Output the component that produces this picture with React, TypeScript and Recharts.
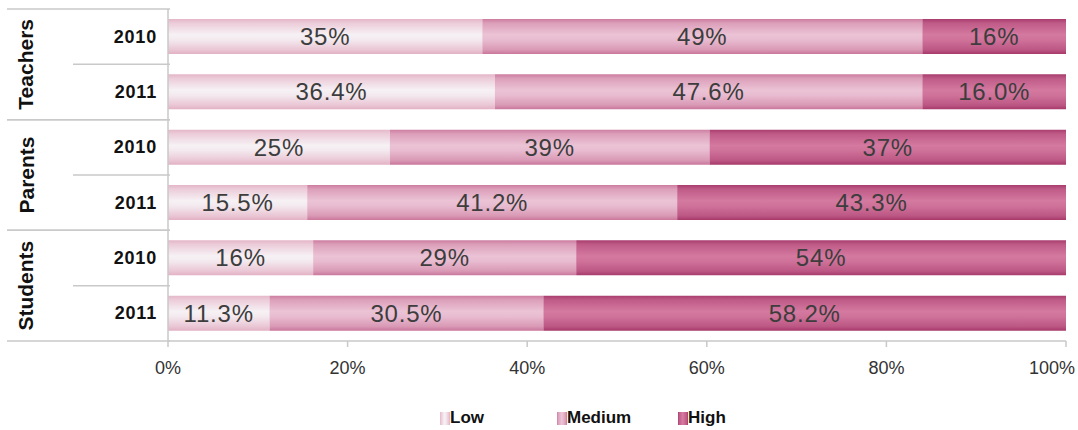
import React from "react";
import { BarChart, Bar, XAxis, YAxis, Legend, LabelList } from "recharts";

const groups = ["Teachers", "Teachers", "Parents", "Parents", "Students", "Students"];
const years = ["2010", "2011", "2010", "2011", "2010", "2011"];
const lowValues = [35, 36.4, 24.7, 15.5, 16, 11.3];
const mediumValues = [49, 47.6, 35.6, 41.2, 29, 30.5];
const highValues = [16, 16.0, 39.7, 43.3, 54, 58.2];
const lowLabels = ["35%", "36.4%", "25%", "15.5%", "16%", "11.3%"];
const mediumLabels = ["49%", "47.6%", "39%", "41.2%", "29%", "30.5%"];
const highLabels = ["16%", "16.0%", "37%", "43.3%", "54%", "58.2%"];
const xTicks = [0, 0.2, 0.4, 0.6, 0.8, 1];
const xTickLabels = ["0%", "20%", "40%", "60%", "80%", "100%"];
const seriesNames = ["Low", "Medium", "High"];

const data = groups.map((g, i) => ({
  key: `${g} ${years[i]}`,
  group: g,
  year: years[i],
  low: lowValues[i],
  medium: mediumValues[i],
  high: highValues[i],
  lowLabel: lowLabels[i],
  mediumLabel: mediumLabels[i],
  highLabel: highLabels[i],
}));

const FONT = '"Liberation Sans", Arial, Helvetica, sans-serif';
const W = 1078;
const H = 430;
const PLOT_TOP = 9;
const PLOT_BOTTOM = 341;
const BAND = (PLOT_BOTTOM - PLOT_TOP) / data.length;
const LINE = "#c9c9c9";

function YTick(props: any) {
  const { x, y, index } = props;
  const row = data[index];
  const half = BAND / 2;
  const axisX = x + 10;
  return (
    <g>
      <text
        x={x - 3}
        y={y}
        textAnchor="end"
        dominantBaseline="central"
        fontFamily={FONT}
        fontWeight="bold"
        fontSize={18}
        letterSpacing={0.8}
        fill="#111"
      >
        {row.year}
      </text>
      {index % 2 === 0 ? (
        <g>
          <line x1={7} x2={axisX} y1={y - half} y2={y - half} stroke={LINE} strokeWidth={1.5} />
          <line x1={73} x2={axisX} y1={y + half} y2={y + half} stroke={LINE} strokeWidth={1.5} />
          <text
            x={26}
            y={y + half}
            transform={`rotate(-90 26 ${y + half})`}
            textAnchor="middle"
            dominantBaseline="central"
            fontFamily={FONT}
            fontWeight="bold"
            fontSize={21}
            fill="#111"
          >
            {row.group}
          </text>
        </g>
      ) : (
        <line x1={7} x2={axisX} y1={y + half} y2={y + half} stroke={LINE} strokeWidth={1.5} />
      )}
    </g>
  );
}

function XTick(props: any) {
  const { x, y, index } = props;
  const last = index === xTicks.length - 1;
  return (
    <text
      x={last ? x + 9 : x}
      y={y}
      dy="0.71em"
      textAnchor={last ? "end" : "middle"}
      fontFamily={FONT}
      fontSize={18}
      fill="#333"
    >
      {xTickLabels[index]}
    </text>
  );
}

const gradIds = ["gLow", "gMed", "gHigh"];
const itemLefts = [440, 557, 678];

function LegendContent() {
  return (
    <div style={{ position: "relative", height: 22, width: W, fontFamily: FONT }}>
      {seriesNames.map((n, i) => (
        <div
          key={n}
          style={{
            position: "absolute",
            left: itemLefts[i],
            top: 0,
            height: 22,
            display: "flex",
            alignItems: "center",
          }}
        >
          <svg width={10} height={13} style={{ display: "block" }}>
            <rect x={0} y={0} width={10} height={13} fill={`url(#${gradIds[i]}L)`} />
          </svg>
          <span style={{ fontWeight: "bold", fontSize: 17, color: "#111", lineHeight: "22px" }}>{n}</span>
        </div>
      ))}
    </div>
  );
}

function Grad({ id, stops, horizontal }: { id: string; stops: string[]; horizontal?: boolean }) {
  const offs = [0, 0.12, 0.45, 0.6, 0.88, 1];
  return (
    <linearGradient id={id} x1="0" y1="0" x2={horizontal ? "1" : "0"} y2={horizontal ? "0" : "1"}>
      {stops.map((c, i) => (
        <stop key={i} offset={offs[i]} stopColor={c} />
      ))}
    </linearGradient>
  );
}

const lowStops = ["#e4b6c8", "#ecccd9", "#f6f1f4", "#f3e9ee", "#eac6d4", "#e2b1c4"];
const medStops = ["#cd7da0", "#dc9fba", "#ebc3d5", "#e8bbd0", "#d999b5", "#ca769b"];
const highStops = ["#a93d6e", "#bf5b87", "#d479a0", "#cf729a", "#bc5784", "#a7396a"];

export default function App() {
  const labelStyle = { fontFamily: FONT, fontSize: 24, letterSpacing: 0.8 };
  return (
    <div style={{ position: "absolute", left: 0, top: 0, width: W, height: H, background: "#fff" }}>
      <BarChart
        width={W}
        height={H}
        data={data}
        layout="vertical"
        stackOffset="expand"
        margin={{ top: PLOT_TOP, right: 12, bottom: 1, left: 0 }}
        barSize={35}
      >
        <defs>
          <Grad id="gLow" stops={lowStops} />
          <Grad id="gMed" stops={medStops} />
          <Grad id="gHigh" stops={highStops} />
          <Grad id="gLowL" stops={lowStops} horizontal />
          <Grad id="gMedL" stops={medStops} horizontal />
          <Grad id="gHighL" stops={highStops} horizontal />
        </defs>
        <XAxis
          type="number"
          domain={[0, 1]}
          ticks={xTicks}
          height={66}
          axisLine={{ stroke: LINE, strokeWidth: 1.5 }}
          tickLine={{ stroke: LINE, strokeWidth: 1.5 }}
          tickSize={6}
          tickMargin={14}
          tick={<XTick />}
          interval={0}
        />
        <YAxis
          type="category"
          dataKey="key"
          width={168}
          axisLine={{ stroke: LINE, strokeWidth: 1.5 }}
          tickLine={false}
          tick={<YTick />}
          interval={0}
        />
        <Legend
          verticalAlign="bottom"
          content={<LegendContent />}
          wrapperStyle={{ left: 0, width: W, bottom: 1 }}
        />
        <Bar dataKey="low" name="Low" stackId="a" fill="url(#gLow)" isAnimationActive={false}>
          <LabelList dataKey="lowLabel" position="center" fill="#3d3d3d" style={labelStyle} />
        </Bar>
        <Bar dataKey="medium" name="Medium" stackId="a" fill="url(#gMed)" isAnimationActive={false}>
          <LabelList dataKey="mediumLabel" position="center" fill="#3d3d3d" style={labelStyle} />
        </Bar>
        <Bar dataKey="high" name="High" stackId="a" fill="url(#gHigh)" isAnimationActive={false}>
          <LabelList dataKey="highLabel" position="center" fill="#3d3d3d" style={labelStyle} />
        </Bar>
      </BarChart>
    </div>
  );
}
